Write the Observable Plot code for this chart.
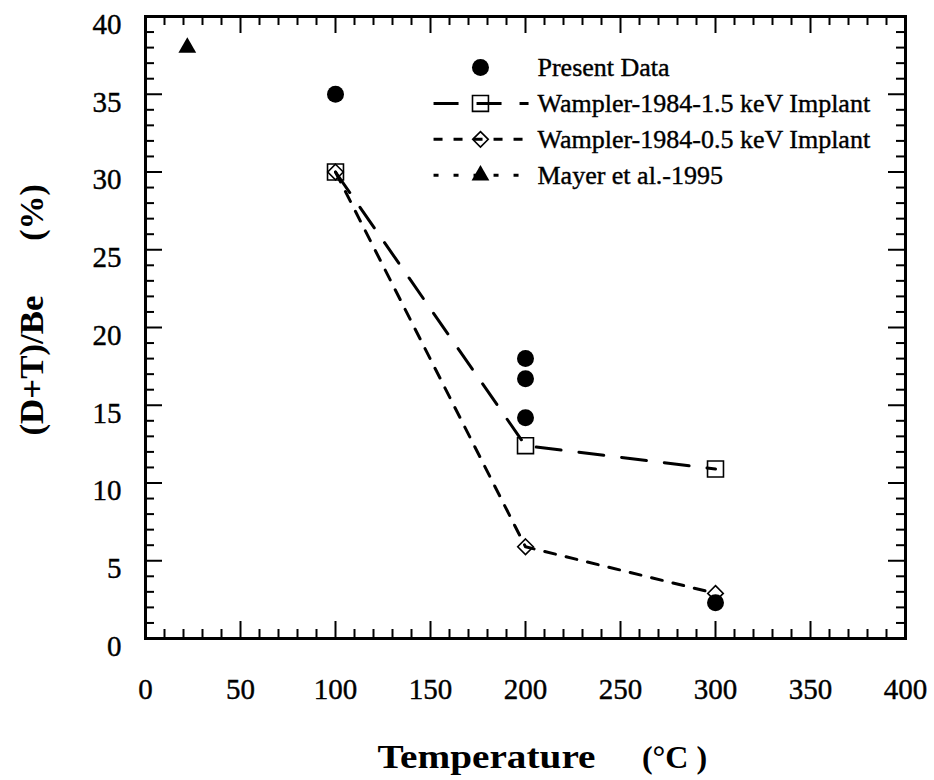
<!DOCTYPE html>
<html>
<head>
<meta charset="utf-8">
<script src="https://cdn.jsdelivr.net/npm/d3@7"></script>
<script src="https://cdn.jsdelivr.net/npm/@observablehq/plot@0.6"></script>
<style>
  html, body { margin: 0; padding: 0; background: #fff; }
  #chart { width: 934px; height: 780px; }
  #chart g[aria-label="x-axis tick label"] text,
  #chart g[aria-label="y-axis tick label"] text,
  #chart text.legend-label { stroke: black; stroke-width: 0.4px; }
</style>
</head>
<body>
<div id="chart"></div>
<script>
// ---- Data ----
const presentTemp = [100, 200, 200, 200, 300];
const presentRatio = [35, 18, 16.7, 14.2, 2.3];

const wampler15Temp = [100, 200, 300];
const wampler15Ratio = [30, 12.4, 10.9];

const wampler05Temp = [100, 200, 300];
const wampler05Ratio = [30, 5.9, 2.9];

const mayerTemp = [22];
const mayerRatio = [38];

const xTickValues = [0, 50, 100, 150, 200, 250, 300, 350, 400];
const yTickValues = [0, 5, 10, 15, 20, 25, 30, 35, 40];
const xMinorTicks = d3.range(0, 401, 10).filter(v => v % 50 !== 0);
const yMinorTicks = d3.range(0, 41, 1).filter(v => v % 5 !== 0);

const legendLabels = [
  "Present Data",
  "Wampler-1984-1.5 keV Implant",
  "Wampler-1984-0.5 keV Implant",
  "Mayer et al.-1995"
];

const xTitle = "Temperature";
const xTitleUnit = "(\u00B0C )";
const yTitle = "(D+T)/Be";
const yTitleUnit = "(%)";

// ---- Build tables ----
const present = presentTemp.map((t, i) => ({t, v: presentRatio[i]}));
const w15 = wampler15Temp.map((t, i) => ({t, v: wampler15Ratio[i]}));
const w05 = wampler05Temp.map((t, i) => ({t, v: wampler05Ratio[i]}));
const mayer = mayerTemp.map((t, i) => ({t, v: mayerRatio[i]}));

// ---- Layout ----
const W = 934, H = 780;
const mL = 145, mR = 29, mT = 16, mB = 142;
const frameW = W - mL - mR, frameH = H - mT - mB;
const majorLen = 17, minorLen = 9;
const serif = "'Liberation Serif', 'Times New Roman', serif";

// legend placement (in chart units, inside the frame, upper right)
const legTop = 36.72, legStep = 2.31;
const legLineX1 = 151.6, legLineX2 = 201.6, legMarkX = 176.3, legTextX = 206.3;
const legY = i => legTop - i * legStep;

const dash15 = "25,18";
const dash05 = "11,11";
const dashMayer = "5,15";

const chart = Plot.plot({
  width: W,
  height: H,
  marginLeft: mL,
  marginRight: mR,
  marginTop: mT,
  marginBottom: mB,
  style: {fontFamily: serif, fontSize: "29px", color: "black", background: "white"},
  x: {domain: [0, 400], label: null},
  y: {domain: [0, 40], label: null},
  marks: [
    // tick labels
    Plot.axisX(xTickValues, {label: null, tickSize: 0, tickPadding: 40, fontSize: 29, fontFamily: serif}),
    Plot.axisY(yTickValues, {label: null, tickSize: 0, tickPadding: 24, dy: 8, fontSize: 29, fontFamily: serif}),
    // inward ticks on all four sides
    Plot.ruleX(xTickValues, {strokeWidth: 2, insetTop: frameH - majorLen}),
    Plot.ruleX(xMinorTicks, {strokeWidth: 2, insetTop: frameH - minorLen}),
    Plot.ruleX(xTickValues, {strokeWidth: 2, insetBottom: frameH - majorLen}),
    Plot.ruleX(xMinorTicks, {strokeWidth: 2, insetBottom: frameH - minorLen}),
    Plot.ruleY(yTickValues, {strokeWidth: 2, insetRight: frameW - majorLen}),
    Plot.ruleY(yMinorTicks, {strokeWidth: 2, insetRight: frameW - minorLen}),
    Plot.ruleY(yTickValues, {strokeWidth: 2, insetLeft: frameW - majorLen}),
    Plot.ruleY(yMinorTicks, {strokeWidth: 2, insetLeft: frameW - minorLen}),
    Plot.frame({strokeWidth: 3, stroke: "black"}),

    // data lines
    Plot.line(w15, {x: "t", y: "v", stroke: "black", strokeWidth: 3, strokeDasharray: dash15}),
    Plot.line(w05, {x: "t", y: "v", stroke: "black", strokeWidth: 3, strokeDasharray: dash05}),

    // data markers
    Plot.dot(w15, {x: "t", y: "v", symbol: "square", r: 9, stroke: "black", strokeWidth: 1.6, fill: "none"}),
    Plot.dot(w05, {x: "t", y: "v", symbol: "diamond2", r: 7, stroke: "black", strokeWidth: 1.6, fill: "none"}),
    Plot.dot(present, {x: "t", y: "v", symbol: "circle", r: 8.5, fill: "black", stroke: "none"}),
    Plot.dot(mayer, {x: "t", y: "v", symbol: "triangle", r: 6.6, fill: "black", stroke: "none"}),

    // legend
    Plot.link([1], {x1: legLineX1, x2: legLineX2, y1: legY, y2: legY, stroke: "black", strokeWidth: 3, strokeDasharray: dash15}),
    Plot.link([2], {x1: legLineX1, x2: legLineX2, y1: legY, y2: legY, stroke: "black", strokeWidth: 3, strokeDasharray: "9,11"}),
    Plot.link([3], {x1: legLineX1, x2: legLineX2, y1: legY, y2: legY, stroke: "black", strokeWidth: 3, strokeDasharray: dashMayer}),
    Plot.dot([0], {x: legMarkX, y: legY, symbol: "circle", r: 8.5, fill: "black", stroke: "none"}),
    Plot.dot([1], {x: legMarkX, y: legY, symbol: "square", r: 9, stroke: "black", strokeWidth: 1.6, fill: "none"}),
    Plot.dot([2], {x: legMarkX, y: legY, symbol: "diamond2", r: 7, stroke: "black", strokeWidth: 1.6, fill: "none"}),
    Plot.dot([3], {x: legMarkX, y: legY, symbol: "triangle", r: 6.6, fill: "black", stroke: "none"}),
    Plot.text(legendLabels, {x: legTextX, y: (d, i) => legY(i), text: d => d, textAnchor: "start", lineAnchor: "middle", fontSize: 26, fontFamily: serif, fill: "black"}),

    // axis titles
    Plot.text([xTitle], {text: d => d, frameAnchor: "bottom", textAnchor: "middle", dx: -39, dy: 119, lineAnchor: "middle", fontSize: 34, fontWeight: "bold", fontFamily: serif, fill: "black"}),
    Plot.text([xTitleUnit], {text: d => d, frameAnchor: "bottom", textAnchor: "middle", dx: 149, dy: 119, lineAnchor: "middle", fontSize: 32, fontWeight: "bold", fontFamily: serif, fill: "black"}),
    Plot.text([yTitle], {text: d => d, frameAnchor: "left", textAnchor: "middle", rotate: -90, dx: -113, dy: 38, lineAnchor: "middle", fontSize: 34, fontWeight: "bold", fontFamily: serif, fill: "black"}),
    Plot.text([yTitleUnit], {text: d => d, frameAnchor: "left", textAnchor: "middle", rotate: -90, dx: -113, dy: -115, lineAnchor: "middle", fontSize: 34, fontWeight: "bold", fontFamily: serif, fill: "black"})
  ]
});

document.getElementById("chart").appendChild(chart);

const svg = d3.select(chart);
// widen the titles slightly, as in the reference
svg.selectAll("text")
  .filter(function () { return this.textContent === xTitle; })
  .attr("textLength", 218)
  .attr("lengthAdjust", "spacingAndGlyphs");
svg.selectAll("text")
  .filter(function () { return this.textContent === yTitle; })
  .attr("textLength", 140)
  .attr("lengthAdjust", "spacingAndGlyphs");
svg.selectAll("text")
  .filter(function () { return legendLabels.includes(this.textContent); })
  .classed("legend-label", true);
</script>
</body>
</html>
